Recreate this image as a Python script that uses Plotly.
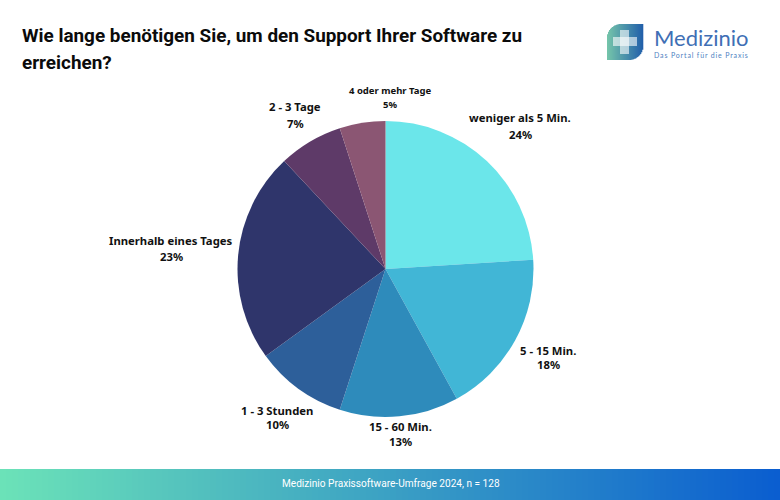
import plotly.graph_objects as go

labels = ["weniger als 5 Min.", "5 - 15 Min.", "15 - 60 Min.", "1 - 3 Stunden",
          "Innerhalb eines Tages", "2 - 3 Tage", "4 oder mehr Tage"]
values = [24, 18, 13, 10, 23, 7, 5]
colors = ["#6BE6EA", "#41B6D6", "#2E8BBB", "#2D5F9A", "#2F356B", "#5E3A68", "#8B5673"]

title_lines = ["Wie lange benötigen Sie, um den Support Ihrer Software zu", "erreichen?"]
footer_text = "Medizinio Praxissoftware-Umfrage 2024, n = 128"
logo_name = "Medizinio"
logo_claim = "Das Portal für die Praxis"

W, H = 780, 500

# pixel centres of each label, same order as labels
label_x = [520, 548, 401, 277, 171, 295, 390]
name_y = [117, 350, 426, 410, 240, 107, 91]
pct_y = [134, 364, 441, 424, 256, 123, 105]
label_size = [11.3, 11.3, 11.3, 11.3, 11.3, 11.3, 9.5]


def px(x):
    return x / W


def py(y):
    return 1 - y / H


def mix(c1, c2, t):
    rgb = [round(a + (b - a) * t) for a, b in zip(c1, c2)]
    return "rgb(%d,%d,%d)" % tuple(rgb)


fig = go.Figure()
fig.add_trace(go.Pie(
    labels=labels, values=values, sort=False, direction="clockwise", rotation=0,
    marker=dict(colors=colors, line=dict(width=0)),
    textinfo="none", hoverinfo="label+percent", showlegend=False,
    domain=dict(x=[px(237.5), px(533.5)], y=[py(417), py(121)]),
))

shapes = []

# footer gradient
for i in range(0, W, 6):
    shapes.append(dict(type="rect", xref="paper", yref="paper", layer="below",
                       x0=px(i), x1=px(i + 6.5), y0=0, y1=py(469),
                       fillcolor=mix((107, 226, 184), (10, 93, 208), i / W),
                       line_width=0))

# logo leaf, drawn as thin strips to get the gradient
leaf_l, leaf_r, leaf_t, leaf_b = 607, 643, 24, 60
corner = 14
for i in range(leaf_r - leaf_l):
    x = i + 0.5
    top = leaf_t
    bottom = leaf_b
    if x < corner:
        top = leaf_t + corner - (corner ** 2 - (corner - x) ** 2) ** 0.5
    if x > 36 - corner:
        bottom = leaf_b - corner + (corner ** 2 - (x - 36 + corner) ** 2) ** 0.5
    shapes.append(dict(type="rect", xref="paper", yref="paper",
                       x0=px(leaf_l + i), x1=px(leaf_l + i + 1.3),
                       y0=py(bottom), y1=py(top),
                       fillcolor=mix((116, 196, 170), (34, 96, 170), i / 35),
                       line_width=0))

# logo cross
for x0, x1, y0, y1 in [(620, 629, 30, 54), (613, 637, 37, 46)]:
    shapes.append(dict(type="rect", xref="paper", yref="paper",
                       x0=px(x0), x1=px(x1), y0=py(y1), y1=py(y0),
                       fillcolor="rgba(255,255,255,0.6)", line_width=0))

logo_text = ("<span style='font-size:22px;color:#3F6FB5'>%s</span><br>"
             "<span style='font-size:7px;letter-spacing:0.85px'>%s</span>" % (logo_name, logo_claim))

annotations = [
    dict(x=px(20), y=py(36), text=title_lines[0], xanchor="left", yanchor="middle",
         font=dict(family="Roboto", size=18.9, color="#0b0b0b", weight="bold")),
    dict(x=px(20), y=py(62), text=title_lines[1], xanchor="left", yanchor="middle",
         font=dict(family="Roboto", size=18.9, color="#0b0b0b", weight="bold")),
    dict(x=px(390.5), y=py(483.5), text=footer_text, xanchor="center", yanchor="middle",
         font=dict(family="Roboto", size=10.1, color="#ffffff")),
    dict(x=px(652), y=py(42), text=logo_text, xanchor="left", yanchor="middle", align="left",
         font=dict(family="Lato", size=9, color="#4F7FBF")),
]

for name, val, x, y1, y2, size in zip(labels, values, label_x, name_y, pct_y, label_size):
    for txt, y in [(name, y1), ("%d%%" % val, y2)]:
        annotations.append(dict(
            x=px(x), y=py(y), text=txt, xanchor="center", yanchor="middle",
            font=dict(family="Noto Sans", size=size, color="#111111", weight="bold"),
        ))

for a in annotations:
    a.update(xref="paper", yref="paper", showarrow=False)

fig.update_layout(
    width=W, height=H, margin=dict(l=0, r=0, t=0, b=0),
    paper_bgcolor="white", plot_bgcolor="white",
    shapes=shapes, annotations=annotations,
)

fig.write_html("out.html", config=dict(displayModeBar=False),
               post_script="document.body.style.margin = '0';")
